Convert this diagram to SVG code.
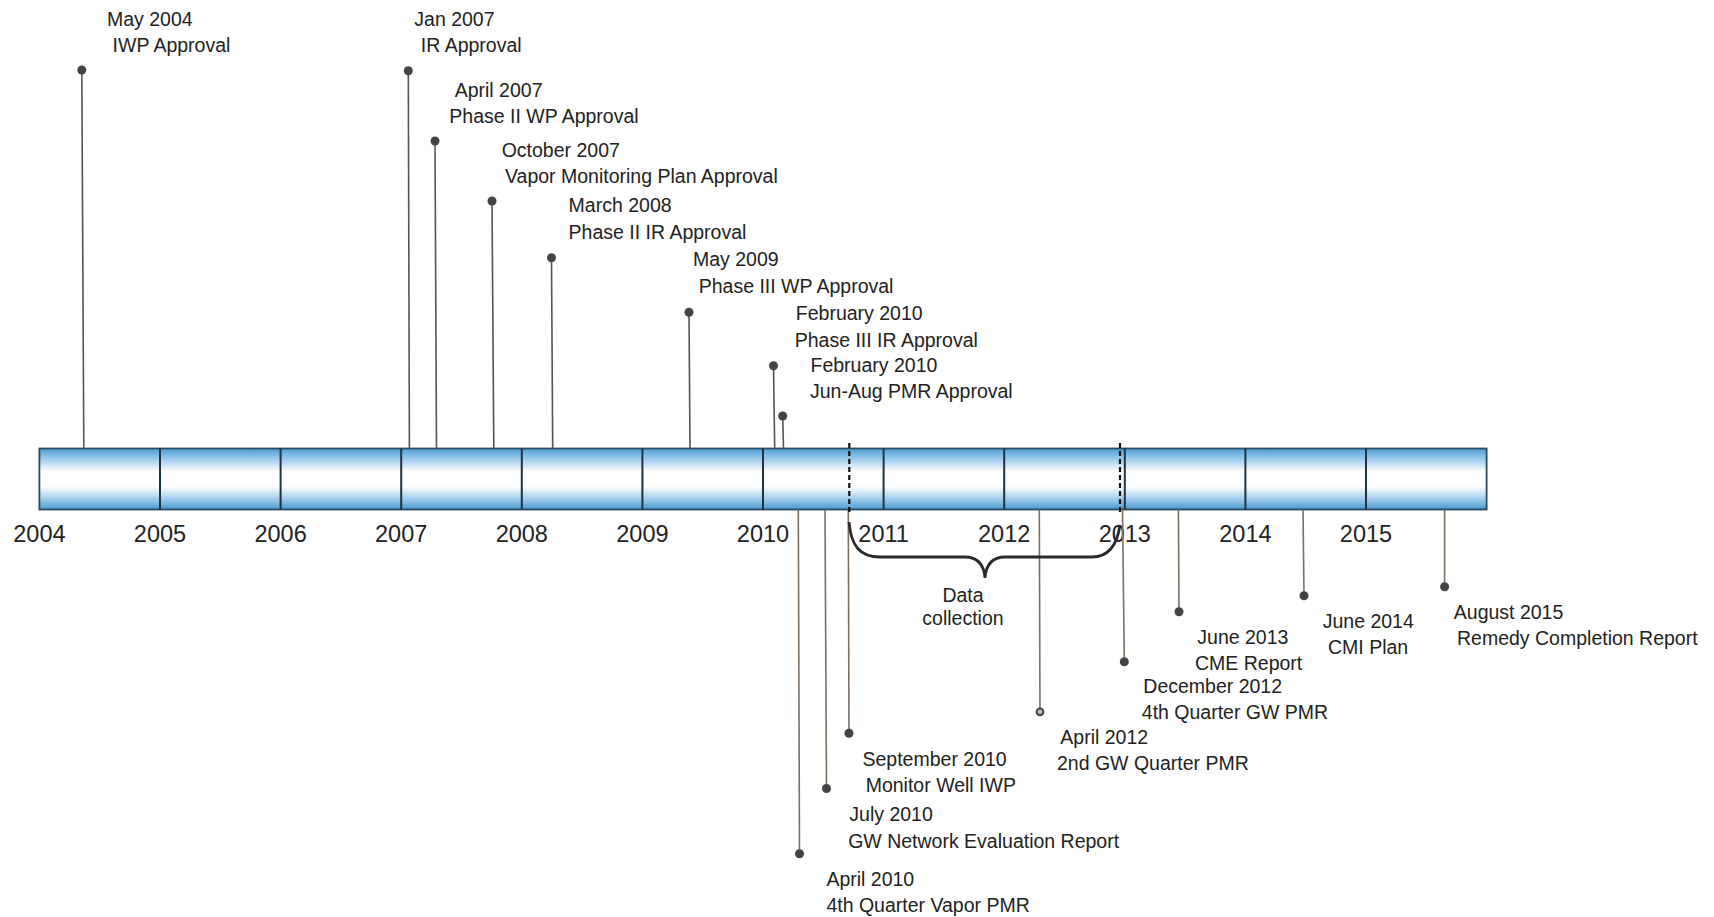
<svg xmlns="http://www.w3.org/2000/svg" width="1714" height="917" viewBox="0 0 1714 917">
<defs>
<linearGradient id="barGrad" x1="0" y1="0" x2="0" y2="1">
<stop offset="0" stop-color="#4f9fd4"/>
<stop offset="0.18" stop-color="#9fcdec"/>
<stop offset="0.38" stop-color="#ffffff"/>
<stop offset="0.62" stop-color="#ffffff"/>
<stop offset="0.82" stop-color="#a3cfec"/>
<stop offset="1" stop-color="#4a98cf"/>
</linearGradient>
</defs>
<style>
.lbl{font-family:"Liberation Sans",Arial,sans-serif;font-size:19.5px;fill:#222}
.yr{font-family:"Liberation Sans",Arial,sans-serif;font-size:23.5px;fill:#222;text-anchor:middle}
.up{stroke:#555;stroke-width:1.6;fill:none}
.dn{stroke:#7d6e60;stroke-width:1.6;fill:none}
.dot{fill:#444}
.div{stroke:#1f3340;stroke-width:2}
.dash{stroke:#111;stroke-width:2.2;stroke-dasharray:5 3;fill:none}
</style>
<rect width="1714" height="917" fill="#ffffff"/>
<g id="timeline-bar">
<rect x="39.4" y="448.5" width="1447.2" height="61" fill="url(#barGrad)" stroke="#2b4a5c" stroke-width="1.8"/>
<line class="div" x1="160" y1="448.5" x2="160" y2="509.5"/>
<line class="div" x1="280.6" y1="448.5" x2="280.6" y2="509.5"/>
<line class="div" x1="401.2" y1="448.5" x2="401.2" y2="509.5"/>
<line class="div" x1="521.8" y1="448.5" x2="521.8" y2="509.5"/>
<line class="div" x1="642.4" y1="448.5" x2="642.4" y2="509.5"/>
<line class="div" x1="763" y1="448.5" x2="763" y2="509.5"/>
<line class="div" x1="883.6" y1="448.5" x2="883.6" y2="509.5"/>
<line class="div" x1="1004.2" y1="448.5" x2="1004.2" y2="509.5"/>
<line class="div" x1="1124.8" y1="448.5" x2="1124.8" y2="509.5"/>
<line class="div" x1="1245.4" y1="448.5" x2="1245.4" y2="509.5"/>
<line class="div" x1="1366" y1="448.5" x2="1366" y2="509.5"/>
</g>
<g id="year-labels">
<text class="yr" x="39.4" y="542">2004</text>
<text class="yr" x="160" y="542">2005</text>
<text class="yr" x="280.6" y="542">2006</text>
<text class="yr" x="401.2" y="542">2007</text>
<text class="yr" x="521.8" y="542">2008</text>
<text class="yr" x="642.4" y="542">2009</text>
<text class="yr" x="763" y="542">2010</text>
<text class="yr" x="883.6" y="542">2011</text>
<text class="yr" x="1004.2" y="542">2012</text>
<text class="yr" x="1124.8" y="542">2013</text>
<text class="yr" x="1245.4" y="542">2014</text>
<text class="yr" x="1366" y="542">2015</text>
</g>
<g id="connectors">
<line class="up" x1="81.8" y1="70" x2="83.8" y2="448.5"/>
<line class="up" x1="408.3" y1="70.7" x2="409.4" y2="448.5"/>
<line class="up" x1="435" y1="141" x2="436.5" y2="448.5"/>
<line class="up" x1="492" y1="201" x2="493.8" y2="448.5"/>
<line class="up" x1="551.5" y1="257.7" x2="552.7" y2="448.5"/>
<line class="up" x1="689" y1="312.3" x2="690" y2="448.5"/>
<line class="up" x1="773.5" y1="365.7" x2="774.7" y2="448.5"/>
<line class="up" x1="782.7" y1="416" x2="783.5" y2="448.5"/>
<line class="dn" x1="798.3" y1="509.5" x2="799.5" y2="853.7"/>
<line class="dn" x1="825" y1="509.5" x2="826.5" y2="788.5"/>
<line class="dn" x1="848.3" y1="509.5" x2="849" y2="733.3"/>
<line class="dn" x1="1039.3" y1="509.5" x2="1040" y2="711.8"/>
<line class="dn" x1="1122.5" y1="509.5" x2="1124.3" y2="661.8"/>
<line class="dn" x1="1178.4" y1="509.5" x2="1179" y2="611.8"/>
<line class="dn" x1="1303" y1="509.5" x2="1304" y2="595.8"/>
<line class="dn" x1="1444.6" y1="509.5" x2="1444.6" y2="586.7"/>
<line class="dash" x1="849.3" y1="443" x2="849.3" y2="513"/>
<line class="dash" x1="1120" y1="443" x2="1120" y2="513"/>
<path id="brace" d="M849,522 C851,546 860,557 880,557 L965,557 C978,557 984,565 985,578 C986,565 992,557 1005,557 L1092,557 C1108,557 1117,546 1120,525" fill="none" stroke="#2a2a2a" stroke-width="2.8"/>
</g>
<g id="dots">
<circle class="dot" cx="81.8" cy="70" r="4.5"/>
<circle class="dot" cx="408.3" cy="70.7" r="4.5"/>
<circle class="dot" cx="435" cy="141" r="4.5"/>
<circle class="dot" cx="492" cy="201" r="4.5"/>
<circle class="dot" cx="551.5" cy="257.7" r="4.5"/>
<circle class="dot" cx="689" cy="312.3" r="4.5"/>
<circle class="dot" cx="773.5" cy="365.7" r="4.5"/>
<circle class="dot" cx="782.7" cy="416" r="4.5"/>
<circle class="dot" cx="799.5" cy="853.7" r="4.5"/>
<circle class="dot" cx="826.5" cy="788.5" r="4.5"/>
<circle class="dot" cx="849" cy="733.3" r="4.5"/>
<circle cx="1040" cy="711.8" r="3.4" fill="#bbb" stroke="#444" stroke-width="2"/>
<circle class="dot" cx="1124.3" cy="661.8" r="4.5"/>
<circle class="dot" cx="1179" cy="611.8" r="4.5"/>
<circle class="dot" cx="1304" cy="595.8" r="4.5"/>
<circle class="dot" cx="1444.6" cy="586.7" r="4.5"/>
</g>
<g id="n-may2004"><text class="lbl" x="107" y="25.6">May 2004</text><text class="lbl" x="112.6" y="51.8">IWP Approval</text></g>
<g id="n-jan2007"><text class="lbl" x="414.3" y="25.6">Jan 2007</text><text class="lbl" x="420.8" y="51.8">IR Approval</text></g>
<g id="n-apr2007"><text class="lbl" x="454.7" y="96.6">April 2007</text><text class="lbl" x="449.3" y="122.9">Phase II WP Approval</text></g>
<g id="n-oct2007"><text class="lbl" x="501.7" y="156.8">October 2007</text><text class="lbl" x="505" y="183">Vapor Monitoring Plan Approval</text></g>
<g id="n-mar2008"><text class="lbl" x="568.6" y="211.5">March 2008</text><text class="lbl" x="568.6" y="238.5">Phase II IR Approval</text></g>
<g id="n-may2009"><text class="lbl" x="693" y="266.3">May 2009</text><text class="lbl" x="698.7" y="293.2">Phase III WP Approval</text></g>
<g id="n-feb2010a"><text class="lbl" x="795.8" y="319.8">February 2010</text><text class="lbl" x="794.7" y="346.8">Phase III IR Approval</text></g>
<g id="n-feb2010b"><text class="lbl" x="810.5" y="372.2">February 2010</text><text class="lbl" x="810" y="398">Jun-Aug PMR Approval</text></g>
<g id="n-data"><text class="lbl" x="963" y="601.6" text-anchor="middle">Data</text><text class="lbl" x="963" y="624.6" text-anchor="middle">collection</text></g>
<g id="n-jun2013"><text class="lbl" x="1197.3" y="644.2">June 2013</text><text class="lbl" x="1195" y="670.4">CME Report</text></g>
<g id="n-jun2014"><text class="lbl" x="1322.7" y="627.9">June 2014</text><text class="lbl" x="1328" y="654.1">CMI Plan</text></g>
<g id="n-aug2015"><text class="lbl" x="1453.8" y="619.1">August 2015</text><text class="lbl" x="1457" y="645.4">Remedy Completion Report</text></g>
<g id="n-dec2012"><text class="lbl" x="1143.3" y="693.4">December 2012</text><text class="lbl" x="1141.8" y="719.4">4th Quarter GW PMR</text></g>
<g id="n-apr2012"><text class="lbl" x="1060.3" y="743.7">April 2012</text><text class="lbl" x="1057" y="770">2nd GW Quarter PMR</text></g>
<g id="n-sep2010"><text class="lbl" x="862.5" y="765.6">September 2010</text><text class="lbl" x="865.7" y="791.8">Monitor Well IWP</text></g>
<g id="n-jul2010"><text class="lbl" x="849.3" y="821.4">July 2010</text><text class="lbl" x="848.2" y="847.6">GW Network Evaluation Report</text></g>
<g id="n-apr2010"><text class="lbl" x="826.4" y="885.9">April 2010</text><text class="lbl" x="826.4" y="912">4th Quarter Vapor PMR</text></g>
</svg>
